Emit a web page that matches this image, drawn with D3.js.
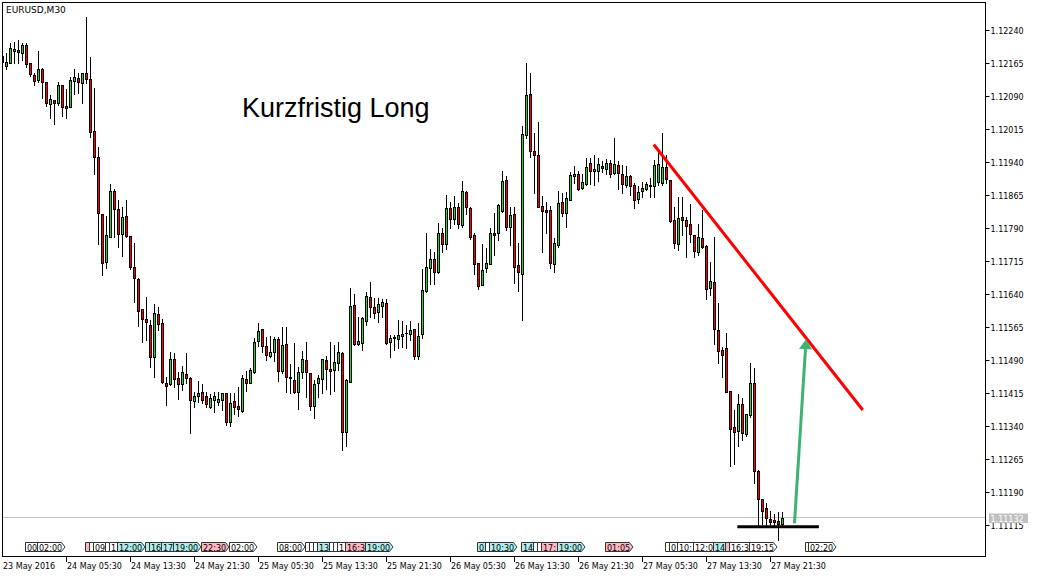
<!DOCTYPE html>
<html><head><meta charset="utf-8">
<script src="https://cdn.jsdelivr.net/npm/d3@7"></script>
<style>
html,body{margin:0;padding:0;background:#fff;}
svg{display:block;}
</style></head><body>
<svg id="c" width="1039" height="578"></svg>
<script>
// ---------------- DATA ----------------
const symbolTitle = "EURUSD,M30";
const annotationText = "Kurzfristig Long";
const firstBarTime = "2016-05-23 21:30";   // M30 bars, consecutive
const barMinutes = 30;

const opens = [1.12166,
1.12158,1.12165,1.12191,1.12193,1.12187,1.12204,1.12163,1.12137,1.12125,1.12150,
1.12120,1.12070,1.12080,1.12072,1.12114,1.12066,1.12065,1.12123,1.12129,1.12118,
1.12141,1.12128,1.12010,1.11950,1.11821,1.11711,1.11770,1.11873,1.11832,1.11776,
1.11817,1.11771,1.11700,1.11674,1.11605,1.11582,1.11569,1.11497,1.11594,1.11573,
1.11438,1.11435,1.11492,1.11448,1.11434,1.11457,1.11448,1.11397,1.11409,1.11416,
1.11407,1.11384,1.11399,1.11395,1.11399,1.11414,1.11348,1.11396,1.11385,1.11374,
1.11446,1.11438,1.11463,1.11533,1.11559,1.11522,1.11499,1.11508,1.11537,1.11465,
1.11526,1.11451,1.11444,1.11418,1.11463,1.11490,1.11459,1.11386,1.11437,1.11446,
1.11490,1.11469,1.11467,1.11483,1.11506,1.11327,1.11440,1.11614,1.11526,1.11529,
1.11579,1.11632,1.11609,1.11598,1.11613,1.11619,1.11531,1.11539,1.11537,1.11544,
1.11550,1.11549,1.11559,1.11499,1.11549,1.11646,1.11698,1.11720,1.11690,1.11779,
1.11754,1.11834,1.11809,1.11837,1.11796,1.11872,1.11834,1.11773,1.11709,1.11661,
1.11699,1.11708,1.11779,1.11779,1.11829,1.11898,1.11791,1.11821,1.11705,1.11686,
1.12000,1.12094,1.11964,1.11955,1.11839,1.11830,1.11830,1.11707,1.11751,1.11849,
1.11823,1.11854,1.11908,1.11911,1.11881,1.11889,1.11936,1.11919,1.11919,1.11931,
1.11923,1.11938,1.11915,1.11932,1.11913,1.11888,1.11908,1.11887,1.11855,1.11873,
1.11877,1.11885,1.11885,1.11893,1.11891,1.11928,1.11898,1.11807,1.11754,1.11814,
1.11807,1.11798,1.11773,1.11735,1.11766,1.11748,1.11652,1.11666,1.11558,1.11512,
1.11518,1.11419,1.11337,1.11329,1.11389,1.11321,1.11365,1.11437,1.11237,1.11174,
1.11153,1.11128,1.11126,1.11124,1.11117];

const highs = [1.12194,
1.12186,1.12209,1.12211,1.12216,1.12209,1.12209,1.12165,1.12142,1.12191,1.12152,
1.12121,1.12091,1.12081,1.12120,1.12115,1.12105,1.12132,1.12150,1.12141,1.12142,
1.12269,1.12178,1.12107,1.11973,1.11822,1.11817,1.11889,1.11879,1.11854,1.11838,
1.11854,1.11772,1.11755,1.11675,1.11606,1.11633,1.11580,1.11616,1.11611,1.11583,
1.11452,1.11508,1.11505,1.11463,1.11476,1.11505,1.11452,1.11418,1.11443,1.11434,
1.11418,1.11412,1.11418,1.11418,1.11415,1.11415,1.11414,1.11414,1.11429,1.11455,
1.11465,1.11471,1.11539,1.11574,1.11560,1.11542,1.11544,1.11542,1.11542,1.11564,
1.11564,1.11480,1.11529,1.11474,1.11511,1.11531,1.11460,1.11444,1.11455,1.11493,
1.11499,1.11531,1.11524,1.11531,1.11508,1.11446,1.11652,1.11639,1.11588,1.11588,
1.11645,1.11667,1.11630,1.11630,1.11627,1.11627,1.11546,1.11546,1.11580,1.11579,
1.11569,1.11578,1.11561,1.11573,1.11696,1.11779,1.11741,1.11734,1.11800,1.11789,
1.11864,1.11849,1.11862,1.11845,1.11896,1.11874,1.11836,1.11779,1.11710,1.11753,
1.11743,1.11789,1.11823,1.11844,1.11919,1.11907,1.11838,1.11838,1.11756,1.12021,
1.12163,1.12141,1.12006,1.12031,1.11862,1.11849,1.11840,1.11766,1.11873,1.11869,
1.11872,1.11917,1.11931,1.11919,1.11911,1.11948,1.11949,1.11955,1.11948,1.11941,
1.11945,1.11944,1.11993,1.11941,1.11932,1.11931,1.11910,1.11891,1.11885,1.11893,
1.11894,1.11902,1.11944,1.11962,1.12004,1.11955,1.11899,1.11836,1.11860,1.11860,
1.11815,1.11844,1.11774,1.11798,1.11830,1.11751,1.11713,1.11768,1.11618,1.11520,
1.11550,1.11420,1.11376,1.11412,1.11403,1.11368,1.11482,1.11471,1.11241,1.11175,
1.11166,1.11147,1.11140,1.11145,1.11144];

const lows = [1.12155,
1.12150,1.12164,1.12163,1.12163,1.12170,1.12155,1.12135,1.12114,1.12121,1.12085,
1.12066,1.12040,1.12025,1.12069,1.12044,1.12040,1.12063,1.12094,1.12095,1.12072,
1.12119,1.11995,1.11911,1.11752,1.11683,1.11699,1.11768,1.11770,1.11747,1.11726,
1.11769,1.11697,1.11622,1.11567,1.11531,1.11535,1.11474,1.11452,1.11558,1.11437,
1.11387,1.11433,1.11428,1.11400,1.11421,1.11437,1.11323,1.11382,1.11394,1.11391,
1.11382,1.11381,1.11372,1.11387,1.11376,1.11342,1.11340,1.11368,1.11362,1.11372,
1.11420,1.11437,1.11460,1.11522,1.11508,1.11490,1.11496,1.11488,1.11443,1.11459,
1.11418,1.11414,1.11414,1.11378,1.11448,1.11406,1.11376,1.11359,1.11406,1.11414,
1.11424,1.11412,1.11419,1.11467,1.11285,1.11294,1.11439,1.11524,1.11524,1.11512,
1.11569,1.11588,1.11584,1.11575,1.11588,1.11526,1.11496,1.11512,1.11516,1.11520,
1.11518,1.11535,1.11492,1.11493,1.11539,1.11645,1.11662,1.11662,1.11688,1.11735,
1.11741,1.11789,1.11798,1.11789,1.11792,1.11821,1.11764,1.11686,1.11650,1.11660,
1.11690,1.11707,1.11728,1.11762,1.11826,1.11785,1.11751,1.11664,1.11647,1.11580,
1.11993,1.11951,1.11868,1.11836,1.11735,1.11779,1.11698,1.11689,1.11747,1.11817,
1.11792,1.11853,1.11891,1.11876,1.11878,1.11887,1.11889,1.11887,1.11897,1.11917,
1.11913,1.11906,1.11913,1.11879,1.11869,1.11883,1.11864,1.11834,1.11845,1.11860,
1.11876,1.11860,1.11860,1.11887,1.11887,1.11891,1.11804,1.11744,1.11739,1.11773,
1.11723,1.11758,1.11723,1.11728,1.11745,1.11627,1.11637,1.11525,1.11483,1.11452,
1.11416,1.11250,1.11253,1.11295,1.11308,1.11317,1.11361,1.11210,1.11115,1.11117,
1.11115,1.11115,1.11115,1.11082,1.11115];

const closes = [1.12180,
1.12166,1.12197,1.12195,1.12190,1.12204,1.12161,1.12138,1.12124,1.12150,1.12120,
1.12072,1.12082,1.12074,1.12114,1.12065,1.12062,1.12125,1.12132,1.12120,1.12141,
1.12127,1.12007,1.11951,1.11823,1.11709,1.11773,1.11873,1.11832,1.11776,1.11815,
1.11772,1.11700,1.11675,1.11602,1.11582,1.11576,1.11496,1.11596,1.11571,1.11440,
1.11431,1.11493,1.11446,1.11434,1.11462,1.11448,1.11399,1.11409,1.11415,1.11399,
1.11389,1.11403,1.11409,1.11401,1.11414,1.11349,1.11393,1.11382,1.11378,1.11448,
1.11438,1.11467,1.11531,1.11556,1.11522,1.11501,1.11508,1.11537,1.11465,1.11524,
1.11450,1.11448,1.11418,1.11462,1.11492,1.11462,1.11386,1.11435,1.11449,1.11492,
1.11469,1.11465,1.11486,1.11508,1.11327,1.11444,1.11613,1.11525,1.11533,1.11586,
1.11635,1.11609,1.11596,1.11617,1.11621,1.11529,1.11539,1.11542,1.11546,1.11549,
1.11552,1.11558,1.11499,1.11544,1.11649,1.11700,1.11720,1.11690,1.11779,1.11754,
1.11834,1.11809,1.11836,1.11798,1.11873,1.11836,1.11770,1.11707,1.11658,1.11695,
1.11709,1.11779,1.11773,1.11841,1.11896,1.11792,1.11819,1.11701,1.11689,1.12003,
1.12091,1.11965,1.11955,1.11838,1.11829,1.11826,1.11709,1.11756,1.11845,1.11823,
1.11857,1.11910,1.11913,1.11879,1.11893,1.11927,1.11919,1.11923,1.11934,1.11925,
1.11938,1.11913,1.11934,1.11915,1.11889,1.11907,1.11885,1.11854,1.11872,1.11881,
1.11889,1.11888,1.11932,1.11934,1.11928,1.11900,1.11806,1.11756,1.11811,1.11807,
1.11794,1.11775,1.11738,1.11768,1.11747,1.11650,1.11669,1.11559,1.11511,1.11502,
1.11418,1.11334,1.11327,1.11389,1.11323,1.11366,1.11437,1.11237,1.11175,1.11147,
1.11132,1.11122,1.11122,1.11117,1.11132];

const priceTicks = [1.12240,1.12165,1.12090,1.12015,1.11940,1.11865,1.11790,1.11715,
                    1.11640,1.11565,1.11490,1.11415,1.11340,1.11265,1.11190,1.11115];
const firstDateLabel = "23 May 2016";
const timeTickLabels = ["24 May 05:30","24 May 13:30","24 May 21:30","25 May 05:30",
  "25 May 13:30","25 May 21:30","26 May 05:30","26 May 13:30","26 May 21:30",
  "27 May 05:30","27 May 13:30","27 May 21:30"];
const currentPrice = 1.11132;

// drawn objects (time, price anchors)
const trendLineTimes = ["2016-05-27 06:54","2016-05-28 09:02"];
const trendLinePrices = [1.11979, 1.11376];
const supportLineTimes = ["2016-05-27 17:21","2016-05-28 03:33"];
const supportLinePrice = 1.11111;
const arrowTimes = ["2016-05-28 00:30","2016-05-28 01:57"];
const arrowPrices = [1.11119, 1.11537];
const textAnchorTime = "2016-05-25 03:26";
const textAnchorPrice = 1.12041;

// calendar event markers
const eventTimes = ["2016-05-24 00:30","2016-05-24 02:00","2016-05-24 08:00","2016-05-24 08:30",
 "2016-05-24 09:00","2016-05-24 10:30","2016-05-24 11:00","2016-05-24 12:00","2016-05-24 15:30",
 "2016-05-24 16:00","2016-05-24 17:30","2016-05-24 19:00","2016-05-24 22:30","2016-05-25 02:00",
 "2016-05-25 08:00","2016-05-25 11:30","2016-05-25 12:00","2016-05-25 12:30","2016-05-25 13:00",
 "2016-05-25 14:30","2016-05-25 15:00","2016-05-25 15:30","2016-05-25 16:30","2016-05-25 19:00",
 "2016-05-26 09:00","2016-05-26 10:00","2016-05-26 10:30","2016-05-26 14:30","2016-05-26 16:00",
 "2016-05-26 16:30","2016-05-26 17:00","2016-05-26 19:00","2016-05-27 01:00","2016-05-27 08:30",
 "2016-05-27 09:00","2016-05-27 10:00","2016-05-27 12:00","2016-05-27 14:30","2016-05-27 16:00",
 "2016-05-27 16:30","2016-05-27 19:00","2016-05-28 02:00","2016-05-28 02:20"];
const eventTexts = ["00:30","02:00","08:00","08:30","09:00","10:30","11:00","12:00","15:30",
 "16:00","17:30","19:00","22:30","02:00","08:00","11:30","12:00","12:30","13:00","14:30","15:00",
 "15:30","16:30","19:00","09:00","10:00","10:30","14:30","16:00","16:30","17:00","19:00","01:05",
 "08:30","09:00","10:00","12:00","14:30","16:00","16:30","19:15","02:00","02:20"];
const eventKinds = ["w","w","p","w","w","w","w","c","c","c","c","c","p","w","w","w","w","w","c",
 "w","w","w","p","c","c","w","c","c","w","w","p","c","p","w","w","w","w","c","p","w","w","w","w"];

// ---------------- STYLE ----------------
const kindFill = {w:"#ffffff", c:"#afeeee", p:"#ffb6c1"};
const bullColor = "#32cd32", bearColor = "#ff0000";
const axisFont = "DejaVu Sans";

// ---------------- SCALES ----------------
const parse = d3.utcParse("%Y-%m-%d %H:%M");
const parseTick = d3.utcParse("%d %b %Y %H:%M");
const t0 = parse(firstBarTime);
const barTime = k => d3.utcMinute.offset(t0, barMinutes * k);
const xs = d3.scaleUtc()
  .domain([parse("2016-05-23 22:00"), parse("2016-05-24 05:30")])
  .range([6.5, 66.5]);
const ys = d3.scaleLinear().domain([1.11115, 1.12240]).range([525, 29.5]);

const L = 2, R = 985, T = 2, B = 557;
const svg = d3.select("#c");
svg.append("rect").attr("width",1039).attr("height",578).attr("fill","#fff");

const defs = svg.append("defs");
defs.append("clipPath").attr("id","plot").append("rect")
  .attr("x",L+1).attr("y",T+1).attr("width",R-L-1).attr("height",B-T-1);

const plot = svg.append("g").attr("clip-path","url(#plot)");

// current price line
const cpY = Math.floor(ys(currentPrice)) + 0.5;
plot.append("line").attr("x1",L).attr("x2",R).attr("y1",cpY).attr("y2",cpY)
  .attr("stroke","#c0c0c0").attr("stroke-width",1);

// candles
const candles = opens.map((o,k)=>({t:barTime(k), o, h:highs[k], l:lows[k], c:closes[k]}));
const cg = plot.append("g");
candles.forEach(d=>{
  const cx = Math.floor(xs(d.t));
  const yH = Math.round(ys(d.h)), yL = Math.round(ys(d.l));
  cg.append("line").attr("x1",cx+0.5).attr("x2",cx+0.5).attr("y1",yH).attr("y2",yL+1)
    .attr("stroke","#000").attr("stroke-width",1).attr("shape-rendering","crispEdges");
  const top = Math.round(ys(Math.max(d.o,d.c))), bot = Math.round(ys(Math.min(d.o,d.c)));
  const col = d.c > d.o ? bullColor : (d.c < d.o ? bearColor : "#000");
  if (bot - top < 1) {
    cg.append("rect").attr("x",cx-1).attr("y",top).attr("width",3).attr("height",1).attr("fill","#000");
  } else {
    cg.append("rect").attr("x",cx-0.5).attr("y",top+0.5).attr("width",2).attr("height",bot-top)
      .attr("fill",col).attr("stroke","#000").attr("stroke-width",1).attr("shape-rendering","crispEdges");
  }
});

// event markers (later markers cover earlier ones; text shows only what is visible)
const eg = plot.append("g");
const evX = eventTimes.map(ts => Math.floor(xs(parse(ts))) - 1);
eventTimes.forEach((ts,k)=>{
  const x0 = evX[k];
  const pts = [[x0+0.5,542.5],[x0+24.5,542.5],[x0+28,547],[x0+24.5,551.5],[x0+0.5,551.5]];
  eg.append("path").attr("d","M"+pts.map(p=>p.join(",")).join("L")+"Z")
    .attr("fill",kindFill[eventKinds[k]]).attr("stroke","#333").attr("stroke-width",1);
  const avail = (k < evX.length-1 ? Math.min(28, evX[k+1]-x0) : 28) - 2;
  const t = eg.append("text").attr("x",x0+2).attr("y",550.5)
    .attr("font-family",axisFont).attr("font-size",8).attr("fill","#000");
  let s = eventTexts[k];
  t.text(s);
  while (s.length && t.node().getComputedTextLength() > avail + 0.5) {
    s = s.slice(0,-1); t.text(s);
  }
  if (!s.length) t.remove();
});

// trend line
plot.append("line")
  .attr("x1",xs(parse(trendLineTimes[0]))).attr("y1",ys(trendLinePrices[0]))
  .attr("x2",xs(parse(trendLineTimes[1]))).attr("y2",ys(trendLinePrices[1]))
  .attr("stroke","#ff0000").attr("stroke-width",3);

// support line
plot.append("line")
  .attr("x1",xs(parse(supportLineTimes[0]))).attr("y1",ys(supportLinePrice))
  .attr("x2",xs(parse(supportLineTimes[1]))).attr("y2",ys(supportLinePrice))
  .attr("stroke","#000").attr("stroke-width",3);

// arrow
{
  const ax0 = xs(parse(arrowTimes[0])), ay0 = ys(arrowPrices[0]);
  const ax1 = xs(parse(arrowTimes[1])), ay1 = ys(arrowPrices[1]);
  const dx = ax1-ax0, dy = ay1-ay0, len = Math.hypot(dx,dy);
  const ux = dx/len, uy = dy/len, hl = 10, hw = 6.5;
  const bx = ax1 - ux*hl, by = ay1 - uy*hl;
  plot.append("line").attr("x1",ax0).attr("y1",ay0).attr("x2",bx).attr("y2",by)
    .attr("stroke","#3cb371").attr("stroke-width",3);
  plot.append("path")
    .attr("d",`M${ax1},${ay1}L${bx - uy*hw},${by + ux*hw}L${bx + uy*hw},${by - ux*hw}Z`)
    .attr("fill","#3cb371");
}

// annotation text
plot.append("text").attr("x",xs(parse(textAnchorTime))).attr("y",ys(textAnchorPrice))
  .text(annotationText).attr("font-family","Liberation Sans, Arial, sans-serif")
  .attr("font-size",27).attr("fill","#000");

// title
svg.append("text").attr("x",6).attr("y",12.5).text(symbolTitle)
  .attr("font-family",axisFont).attr("font-size",9).attr("fill","#000");

// frame
svg.append("rect").attr("x",L+0.5).attr("y",T+0.5).attr("width",R-L).attr("height",B-T-1)
  .attr("fill","none").attr("stroke","#000").attr("stroke-width",1);

// price axis
const pa = svg.append("g");
priceTicks.forEach(p=>{
  const y = Math.round(ys(p)) + 0.5;
  pa.append("line").attr("x1",R+0.5).attr("x2",R+4.5).attr("y1",y).attr("y2",y)
    .attr("stroke","#000").attr("stroke-width",1);
  pa.append("text").attr("x",990.5).attr("y",y+3).text(p.toFixed(5))
    .attr("font-family",axisFont).attr("font-size",8).attr("fill","#000");
});
// current price label
{
  const y = ys(currentPrice);
  pa.append("rect").attr("x",989).attr("y",Math.round(y)-4.5).attr("width",39).attr("height",9.5)
    .attr("fill","#c0c0c0");
  pa.append("text").attr("x",990.5).attr("y",Math.round(y)+3.5).text(currentPrice.toFixed(5))
    .attr("font-family",axisFont).attr("font-size",8).attr("fill","#fff");
}

// time axis
const ta = svg.append("g");
ta.append("text").attr("x",3).attr("y",568.5).text(firstDateLabel)
  .attr("font-family",axisFont).attr("font-size",8).attr("fill","#000");
timeTickLabels.forEach(s=>{
  const t = parseTick(s.replace(/^(\d+ \w+) /,"$1 2016 "));
  const x = Math.floor(xs(t)) + 0.5;
  ta.append("line").attr("x1",x).attr("x2",x).attr("y1",B).attr("y2",B+5)
    .attr("stroke","#000").attr("stroke-width",1);
  ta.append("text").attr("x",x+0.5).attr("y",568.5).text(s)
    .attr("font-family",axisFont).attr("font-size",8).attr("fill","#000");
});
</script>
</body></html>
